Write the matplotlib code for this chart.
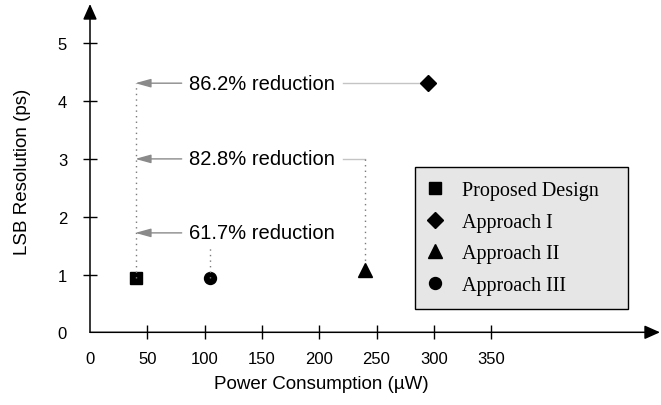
import matplotlib
matplotlib.use("Agg")
import matplotlib.pyplot as plt

# ---- data ----
designs = ["Proposed Design", "Approach I", "Approach II", "Approach III"]
power_uw = [40, 295, 240, 105]
lsb_ps = [0.94, 4.31, 1.07, 0.94]
markers = ["s", "D", "^", "o"]
marker_sizes = [8.6, 8.6, 10, 8.6]
reduction_labels = ["86.2% reduction", "82.8% reduction", "61.7% reduction"]
reduction_levels = [4.31, 3.0, 1.72]
x_ticks = [0, 50, 100, 150, 200, 250, 300, 350]
y_ticks = [0, 1, 2, 3, 4, 5]

SANS = "Liberation Sans"
SERIF = "Liberation Serif"

W, H = 661, 406
fig = plt.figure(figsize=(W / 100, H / 100), dpi=100)
x0, y0 = 90, 333.3
x_right, y_top = 660, 5
ax = fig.add_axes([x0 / W, (H - y0) / H, (x_right - x0) / W, (y0 - y_top) / H])
px_per_x = 57.3 / 50
px_per_y = 57.8
ax.set_xlim(0, (x_right - x0) / px_per_x)
ax.set_ylim(0, (y0 - y_top) / px_per_y)

for s in ax.spines.values():
    s.set_visible(False)

# axis arrows
arrow_kw = dict(arrowstyle="-|>,head_length=9.4,head_width=4.2", color="black",
                lw=1.1, shrinkA=0, shrinkB=0, mutation_scale=1)
ax.annotate("", xy=(1, 0), xytext=(0, 0), xycoords="axes fraction",
            arrowprops=arrow_kw, annotation_clip=False)
ax.annotate("", xy=(0, 1), xytext=(0, 0), xycoords="axes fraction",
            arrowprops=arrow_kw, annotation_clip=False)

ax.set_xticks(x_ticks)
ax.set_yticks(y_ticks)
ax.set_xticklabels([str(v) for v in x_ticks])
ax.set_yticklabels([str(v) for v in y_ticks])
ax.tick_params(axis="both", direction="inout", length=10, width=1.0, color="black",
               labelsize=12)
ax.tick_params(axis="x", pad=8.5)
ax.tick_params(axis="y", pad=11.5)
for lab in ax.get_xticklabels() + ax.get_yticklabels():
    lab.set_fontfamily(SANS)
# hide tick mark at 0
ax.xaxis.get_major_ticks()[0].tick1line.set_visible(False)
ax.yaxis.get_major_ticks()[0].tick1line.set_visible(False)

ax.set_xlabel("Power Consumption (\u00b5W)", fontsize=13.5, fontfamily=SANS)
ax.set_ylabel("LSB Resolution (ps)", fontsize=13.5, fontfamily=SANS)
ax.xaxis.set_label_coords((321 - x0) / (x_right - x0), -(385 - y0) / (y0 - y_top))
ax.xaxis.label.set_va("center")
ax.yaxis.set_label_coords((23 - x0) / (x_right - x0), (y0 - 172) / (y0 - y_top))
ax.yaxis.label.set_va("center")

# data markers
for name, xv, yv, m, ms in zip(designs, power_uw, lsb_ps, markers, marker_sizes):
    ax.plot([xv], [yv], linestyle="none", marker=m, markersize=ms, color="black",
            label=name, zorder=3, clip_on=False)

# annotations
gray_arrow = "#8a8a8a"
light_line = "#c4c4c4"
dot_col = "#7a7a7a"
prop_x = power_uw[0]
arrow_start = 80
text_x = 86.5
text_end = 220.5

# dotted vertical from proposed design up to top arrow
ax.plot([prop_x, prop_x], [lsb_ps[0], reduction_levels[0]], linestyle=(0, (1, 3)),
        color=dot_col, lw=1.0, zorder=4)
for label, lvl in zip(reduction_labels, reduction_levels):
    ax.annotate("", xy=(prop_x - 0.5, lvl), xytext=(arrow_start, lvl),
                arrowprops=dict(arrowstyle="-|>,head_length=9.4,head_width=2.6",
                                color=gray_arrow, lw=1.0, shrinkA=0, shrinkB=0,
                                mutation_scale=1), zorder=2)
    ax.text(text_x, lvl, label, fontsize=14.5, fontfamily=SANS, ha="left",
            va="center", color="black")

# connector to Approach I
ax.plot([text_end, power_uw[1]], [reduction_levels[0], reduction_levels[0]],
        color=light_line, lw=1.0, zorder=1)
# connector to Approach II
ax.plot([text_end, power_uw[2]], [reduction_levels[1], reduction_levels[1]],
        color=light_line, lw=1.0, zorder=1)
ax.plot([power_uw[2], power_uw[2]], [reduction_levels[1], lsb_ps[2] + 0.12],
        linestyle=(0, (1, 3)), color=dot_col, lw=1.0, zorder=4)
# connector to Approach III
ax.plot([power_uw[3], power_uw[3]], [lsb_ps[3], 1.48],
        linestyle=(0, (1, 3)), color=dot_col, lw=1.0, zorder=4)

# legend
leg = ax.legend(loc="upper left", mode="expand",
                bbox_to_anchor=(415 / W, 0, 213 / W, 1 - 168 / H),
                bbox_transform=fig.transFigure, borderaxespad=0,
                prop={"family": SERIF, "size": 14.5}, frameon=True,
                fancybox=False, framealpha=1, facecolor="#e6e6e6",
                edgecolor="black", handlelength=0.6, handletextpad=1.05,
                borderpad=0.68, labelspacing=0.63, numpoints=1)
leg.get_frame().set_linewidth(1.0)

fig.savefig("out.png", dpi=100)
